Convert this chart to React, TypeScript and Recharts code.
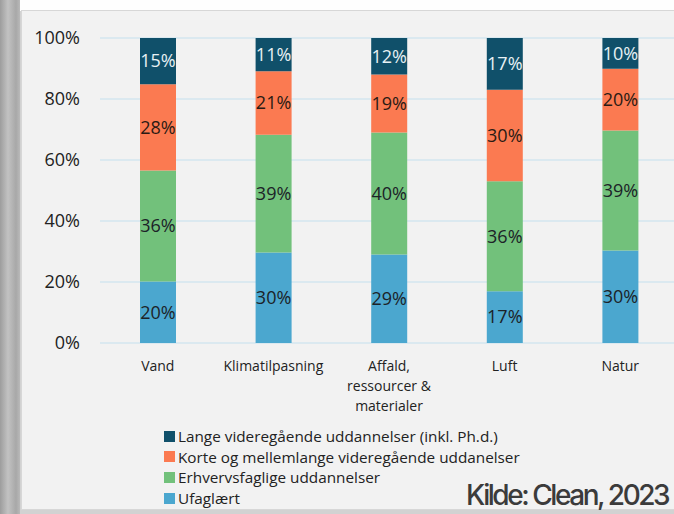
import { Bar, BarChart, CartesianGrid, LabelList, XAxis, YAxis } from 'recharts';

const categories = ['Vand', 'Klimatilpasning', 'Affald, ressourcer & materialer', 'Luft', 'Natur'];
const ufaglaert = [20, 30, 29, 17, 30];
const erhverv = [36, 39, 40, 36, 39];
const korte = [28, 21, 19, 30, 20];
const lange = [15, 11, 12, 17, 10];
const yTicks = [0, 0.2, 0.4, 0.6, 0.8, 1];

// bottom of the stack first
const series = [
  { key: 'ufaglaert', name: 'Ufaglært', color: '#4ba7cf', text: '#1c2328' },
  { key: 'erhverv', name: 'Erhvervsfaglige uddannelser', color: '#72c17b', text: '#1c2328' },
  { key: 'korte', name: 'Korte og mellemlange videregående uddanelser', color: '#fb7a51', text: '#2a1a14' },
  { key: 'lange', name: 'Lange videregående uddannelser (inkl. Ph.d.)', color: '#10506a', text: '#e8f0f4' },
];

const data = categories.map((name, i) => ({
  name,
  ufaglaert: ufaglaert[i],
  erhverv: erhverv[i],
  korte: korte[i],
  lange: lange[i],
}));

const FONT = '"Open Sans", "DejaVu Sans", sans-serif';

function wrap(text: string, max = 12): string[] {
  const lines: string[] = [];
  let cur = '';
  for (const w of text.split(' ')) {
    if (cur && (cur + ' ' + w).length > max) {
      lines.push(cur);
      cur = w;
    } else {
      cur = cur ? cur + ' ' + w : w;
    }
  }
  if (cur) lines.push(cur);
  return lines;
}

function CategoryTick(props: any) {
  const { x, y, payload } = props;
  const lines = wrap(String(payload.value));
  return (
    <text x={x} y={y} textAnchor="middle" fontFamily={FONT} fontSize={14} fill="#222">
      {lines.map((l, i) => (
        <tspan key={i} x={x} dy={20}>
          {l}
        </tspan>
      ))}
    </text>
  );
}

export default function App() {
  return (
    <div
      style={{
        position: 'fixed',
        left: 0,
        top: 0,
        width: 700,
        height: 514,
        overflow: 'hidden',
        background: '#d2d2d2',
      }}
    >
      <style>{'html,body{margin:0;overflow:hidden}'}</style>
      <div
        style={{
          position: 'absolute',
          left: 0,
          top: 0,
          width: 20,
          height: 514,
          background: 'linear-gradient(90deg, #9d9d9d 0px, #c2c2c2 8px, #a8a8a8 16px, #b9b9b9 20px)',
        }}
      />
      <div style={{ position: 'absolute', left: 20, top: 0, width: 680, height: 11, background: '#fefefe' }} />
      <div
        style={{
          position: 'absolute',
          left: 21,
          top: 10,
          width: 690,
          height: 498,
          background: '#f2f2f2',
          border: '1px solid #d7d7d7',
        }}
      />
      <div style={{ position: 'absolute', left: 0, top: 0 }}>
        <BarChart
          width={678}
          height={423}
          data={data}
          stackOffset="expand"
          margin={{ top: 38, right: 0, bottom: 0, left: 0 }}
        >
          <CartesianGrid vertical={false} stroke="#d3e6ef" strokeWidth={1.5} />
          <XAxis
            dataKey="name"
            axisLine={false}
            tickLine={false}
            height={80}
            interval={0}
            tick={<CategoryTick />}
          />
          <YAxis
            width={100}
            ticks={yTicks}
            domain={[0, 1]}
            axisLine={false}
            tickLine={false}
            tickMargin={14}
            tickFormatter={(v: number) => `${Math.round(v * 100)}%`}
            tick={{ fontFamily: FONT, fontSize: 18, fill: '#222' }}
          />
          {series.map((s) => (
            <Bar
              key={s.key}
              dataKey={s.key}
              name={s.name}
              stackId="a"
              fill={s.color}
              barSize={36}
              isAnimationActive={false}
            >
              <LabelList
                dataKey={s.key}
                position="center"
                formatter={(v: any) => `${v}%`}
                style={{ fontFamily: FONT, fontSize: 18, fill: s.text }}
              />
            </Bar>
          ))}
        </BarChart>
      </div>
      <div style={{ position: 'absolute', left: 164, top: 426, fontFamily: FONT, fontSize: 15.3, color: '#222' }}>
        {[...series].reverse().map((s) => (
          <div key={s.key} style={{ display: 'flex', alignItems: 'center', height: 20.6, whiteSpace: 'nowrap' }}>
            <span style={{ width: 11, height: 11, background: s.color, marginRight: 3, display: 'inline-block' }} />
            {s.name}
          </div>
        ))}
      </div>
      <div
        style={{
          position: 'absolute',
          left: 466,
          top: 478,
          fontFamily: 'Inter, sans-serif',
          fontSize: 28,
          fontWeight: 500,
          letterSpacing: -2.45,
          color: '#3b3b3b',
          whiteSpace: 'nowrap',
        }}
      >
        Kilde: Clean, 2023
      </div>
    </div>
  );
}
